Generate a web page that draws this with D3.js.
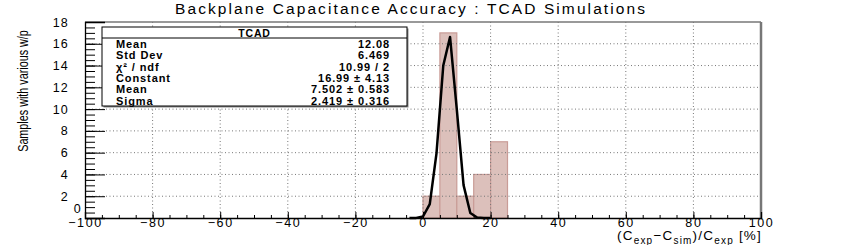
<html>
<head>
<script src="https://d3js.org/d3.v7.min.js"></script>
<style>
  body { margin: 0; background: #fff; }
  text { font-family: "Liberation Sans", Arial, sans-serif; fill: #000; }
</style>
</head>
<body>
<script>
    // histogram: bin low edges (width 5) and counts
    let binEdges = [0, 5, 10, 15, 20];
    let binCounts = [2, 17, 2, 4, 7];
    let binWidth = 5;

    // fitted gaussian as drawn (points read every 2 units)
    let fitX = [-4, -2, 0, 2, 4, 6, 8, 10, 12, 14, 16, 18, 20];
    let fitY = [0, 0.01, 0.14, 1.28, 5.96, 14.01, 16.63, 9.97, 3.02, 0.46, 0.04, 0, 0];

    let xTicks = [-100, -80, -60, -40, -20, 0, 20, 40, 60, 80, 100];
    let yTicks = [0, 2, 4, 6, 8, 10, 12, 14, 16, 18];

    let statLabels = ["Mean", "Std Dev", "\u03c7\u00b2 / ndf", "Constant", "Mean", "Sigma"];
    let statValues = ["12.08", "6.469", "10.99 / 2", "16.99 \u00b1 4.13", "7.502 \u00b1 0.583", "2.419 \u00b1 0.316"];

    let W = 847, H = 245;
    let svg = d3.select("body").append("svg")
        .attr("width", W)
        .attr("height", H);

    let x = d3.scaleLinear().domain([-100, 100]).range([85, 761]);
    let y = d3.scaleLinear().domain([0, 18]).range([218, 22]);

    //histogram bars
    svg.selectAll("rect.bin")
        .data(binEdges)
        .enter().append("rect")
        .attr("class", "bin")
        .attr("x", d => x(d))
        .attr("y", (d, i) => y(binCounts[i]))
        .attr("width", d => x(d + binWidth) - x(d))
        .attr("height", (d, i) => y(0) - y(binCounts[i]))
        .attr("fill", "#dcc0bb")
        .attr("stroke", "#c99c97")
        .attr("stroke-width", 1.2);

    //grid (drawn over the bars)
    xTicks.slice(1, -1).forEach(t =>
        svg.append("line")
            .attr("x1", x(t)).attr("x2", x(t))
            .attr("y1", y(18)).attr("y2", y(0))
            .attr("stroke", "#777")
            .attr("stroke-dasharray", "1,2.5")
    );
    yTicks.slice(1, -1).forEach(t =>
        svg.append("line")
            .attr("x1", x(-100)).attr("x2", x(100))
            .attr("y1", y(t)).attr("y2", y(t))
            .attr("stroke", "#777")
            .attr("stroke-dasharray", "1,2.5")
    );

    //frame
    svg.append("line").attr("x1", x(-100)).attr("x2", x(100)).attr("y1", y(18)).attr("y2", y(18))
        .attr("stroke", "#777").attr("stroke-width", 1.5);
    svg.append("line").attr("x1", x(100)).attr("x2", x(100)).attr("y1", y(18)).attr("y2", y(0))
        .attr("stroke", "#777").attr("stroke-width", 2.5);

    //fit curve
    let line = d3.line()
        .x((d, i) => x(d))
        .y((d, i) => y(fitY[i]));
    svg.append("path")
        .attr("d", line(fitX))
        .attr("fill", "none")
        .attr("stroke", "#000")
        .attr("stroke-width", 2.5)
        .attr("stroke-linejoin", "round");

    //x axis
    let xMinor = d3.range(-100, 101, 5);
    let xAxisMinor = svg.append("g")
        .attr("transform", "translate(0," + y(0) + ")")
        .call(d3.axisBottom(x).tickValues(xMinor).tickSize(-3).tickFormat(""));
    let xAxis = svg.append("g")
        .attr("transform", "translate(0," + y(0) + ")")
        .call(d3.axisBottom(x).tickValues(xTicks).tickSize(-6).tickPadding(0)
            .tickFormat(d => d < 0 ? "\u2212" + Math.abs(d) : d));
    xAxisMinor.select(".domain").remove();
    xAxis.select(".domain").attr("stroke", "#000").attr("stroke-width", 1.3);
    xAxis.selectAll("text")
        .style("font-size", "12.5px")
        .style("letter-spacing", "1.6px")
        .style("font-family", "'Liberation Sans', Arial, sans-serif");

    //y axis
    let yMinor = d3.range(0, 18.01, 0.5);
    let yAxisMinor = svg.append("g")
        .attr("transform", "translate(" + x(-100) + ",0)")
        .call(d3.axisLeft(y).tickValues(yMinor).tickSize(-10).tickFormat(""));
    let yAxis = svg.append("g")
        .attr("transform", "translate(" + x(-100) + ",0)")
        .call(d3.axisLeft(y).tickValues(yTicks).tickSize(-20).tickPadding(16));
    yAxisMinor.select(".domain").remove();
    yAxis.select(".domain").attr("stroke", "#000").attr("stroke-width", 1.3);
    yAxis.selectAll("text")
        .style("font-size", "12.5px")
        .style("letter-spacing", "1.2px")
        .style("font-family", "'Liberation Sans', Arial, sans-serif");
    yAxis.selectAll(".tick").filter(d => d === 0).select("text")
        .attr("x", -3).attr("dy", "-0.45em");

    //stats box
    let bx = 102, by = 27, bw = 305, bh = 79;
    svg.append("rect")
        .attr("x", bx + 1.5).attr("y", by + 1.5).attr("width", bw).attr("height", bh)
        .attr("fill", "#888");
    svg.append("rect")
        .attr("x", bx).attr("y", by).attr("width", bw).attr("height", bh)
        .attr("fill", "#fff").attr("stroke", "#000").attr("stroke-width", 1);
    svg.append("line")
        .attr("x1", bx).attr("x2", bx + bw).attr("y1", by + 11).attr("y2", by + 11)
        .attr("stroke", "#000");
    svg.append("text")
        .attr("x", bx + bw / 2).attr("y", by + 9.5)
        .attr("text-anchor", "middle")
        .style("font-size", "10.5px").style("font-weight", "bold").style("letter-spacing", "0.8px")
        .text("TCAD");
    statLabels.forEach((s, i) => {
        svg.append("text")
            .attr("x", 116).attr("y", 48 + i * 11.3)
            .style("font-size", "11px").style("font-weight", "bold").style("letter-spacing", "0.9px")
            .text(s);
        svg.append("text")
            .attr("x", 390).attr("y", 48 + i * 11.3)
            .attr("text-anchor", "end")
            .style("font-size", "11px").style("font-weight", "bold").style("letter-spacing", "0.9px")
            .text(statValues[i]);
    });

    //title
    svg.append("text")
        .attr("x", 410).attr("y", 14)
        .attr("text-anchor", "middle")
        .attr("textLength", 470).attr("lengthAdjust", "spacing")
        .style("font-size", "15.5px")
        .text("Backplane Capacitance Accuracy : TCAD Simulations");

    //y title (narrow, as in the original)
    svg.append("text")
        .attr("transform", "translate(28,91) rotate(-90) scale(0.72,1)")
        .attr("text-anchor", "middle")
        .style("font-size", "15px")
        .text("Samples with various w/p");

    //x title with subscripts
    let xt = svg.append("text")
        .attr("x", 762).attr("y", 240)
        .attr("text-anchor", "end")
        .style("font-size", "13.5px")
        .style("letter-spacing", "1.2px");
    xt.append("tspan").text("(C");
    xt.append("tspan").attr("dy", 4).style("font-size", "10px").text("exp");
    xt.append("tspan").attr("dy", -4).text("\u2212C");
    xt.append("tspan").attr("dy", 4).style("font-size", "10px").text("sim");
    xt.append("tspan").attr("dy", -4).text(")/C");
    xt.append("tspan").attr("dy", 4).style("font-size", "10px").text("exp");
    xt.append("tspan").attr("dy", -4).text(" [%]");
</script>
</body>
</html>
